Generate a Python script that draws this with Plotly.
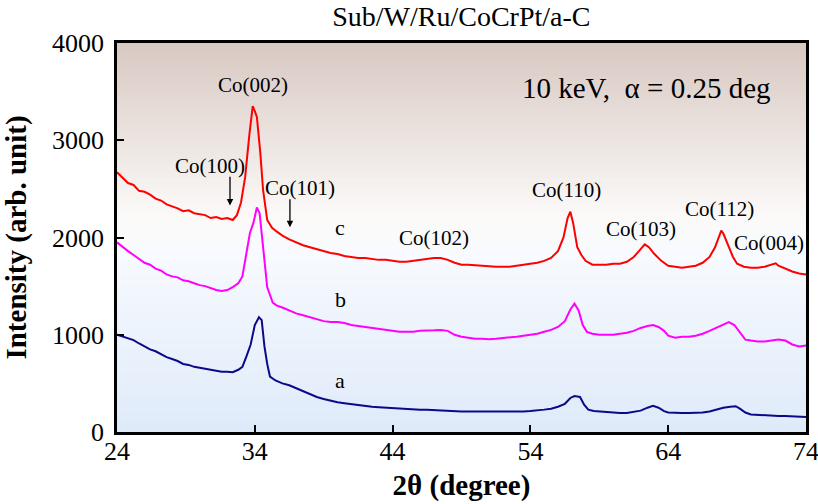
import plotly.graph_objects as go

# ---- data ----
x_c = [24.0, 24.4, 24.8, 25.2, 25.6, 26.0, 26.4, 26.8, 27.2, 27.6, 28.0, 28.4, 28.8, 29.2, 29.6, 30.0,
       30.4, 30.8, 31.2, 31.6, 32.0, 32.4, 32.7, 33.0, 33.3, 33.6, 33.85, 34.0, 34.15, 34.4, 34.6, 34.9,
       35.25, 35.6, 36.0, 36.5, 37.0, 37.5, 38.0, 38.5, 39.0, 39.5, 40.0, 40.5, 41.0, 41.5, 42.0, 42.5,
       43.0, 43.5, 44.0, 44.5, 45.0, 45.5, 46.0, 46.5, 47.0, 47.5, 48.0, 48.5, 49.0, 49.5, 50.0, 50.5,
       51.0, 51.5, 52.0, 52.5, 53.0, 53.5, 54.0, 54.5, 55.0, 55.5, 56.0, 56.4, 56.7, 56.9, 57.1, 57.4,
       57.7, 58.0, 58.5, 59.0, 59.5, 60.0, 60.5, 61.0, 61.5, 62.0, 62.3, 62.6, 63.0, 63.5, 64.0, 64.5,
       65.0, 65.5, 66.0, 66.5, 67.0, 67.4, 67.85, 68.0, 68.3, 68.7, 69.0, 69.5, 70.0, 70.5, 71.0, 71.5,
       71.8, 72.0, 72.5, 73.0, 73.5, 74.0]
y_c = [2670, 2610, 2560, 2540, 2480, 2470, 2440, 2400, 2380, 2340, 2320, 2300, 2270, 2280, 2250, 2240,
       2230, 2200, 2210, 2190, 2200, 2180, 2230, 2360, 2620, 3050, 3350, 3300, 3240, 2870, 2490, 2180,
       2100, 2060, 2020, 1980, 1950, 1920, 1900, 1880, 1860, 1840, 1830, 1810, 1800, 1790, 1790, 1780,
       1770, 1770, 1760, 1750, 1750, 1760, 1770, 1780, 1790, 1790, 1770, 1740, 1720, 1720, 1715, 1710,
       1700, 1700, 1700, 1700, 1710, 1720, 1730, 1740, 1760, 1790, 1860, 2000, 2200, 2265, 2150, 1900,
       1820, 1760, 1720, 1720, 1720, 1730, 1730, 1750, 1800, 1880, 1930, 1900, 1830, 1760, 1710, 1700,
       1690, 1700, 1710, 1740, 1800, 1900, 2070, 2040, 1930, 1800, 1730, 1700, 1690, 1690, 1700, 1720,
       1735, 1710, 1680, 1650, 1630, 1620]

x_b = [24.0, 24.4, 24.8, 25.2, 25.6, 26.0, 26.4, 26.8, 27.2, 27.6, 28.0, 28.4, 28.8, 29.2, 29.6, 30.0,
       30.4, 30.8, 31.2, 31.6, 32.0, 32.4, 32.8, 33.1, 33.4, 33.65, 33.9, 34.15, 34.35, 34.6, 34.9, 35.3,
       35.6, 36.0, 36.5, 37.0, 37.5, 38.0, 38.5, 39.0, 39.5, 40.0, 40.5, 41.0, 41.5, 42.0, 42.5, 43.0,
       43.5, 44.0, 44.5, 45.0, 45.5, 46.0, 46.5, 47.0, 47.5, 48.0, 48.5, 49.0, 49.5, 50.0, 50.5, 51.0,
       51.5, 52.0, 52.5, 53.0, 53.5, 54.0, 54.5, 55.0, 55.5, 56.0, 56.5, 56.9, 57.2, 57.5, 57.8, 58.1,
       58.5, 59.0, 59.5, 60.0, 60.5, 61.0, 61.5, 62.0, 62.5, 62.9, 63.3, 63.7, 64.0, 64.5, 65.0, 65.5,
       66.0, 66.5, 67.0, 67.5, 68.0, 68.4, 68.8, 69.2, 69.6, 70.0, 70.5, 71.0, 71.5, 72.0, 72.5, 73.0,
       73.5, 74.0]
y_b = [1950, 1900, 1860, 1820, 1780, 1740, 1720, 1680, 1660, 1620, 1600, 1590, 1560, 1550, 1530, 1510,
       1500, 1480, 1460, 1450, 1460, 1490, 1530, 1600, 1840, 2050, 2150, 2310, 2250, 1900, 1490, 1330,
       1300, 1280, 1250, 1220, 1200, 1180, 1160, 1140, 1130, 1130, 1120, 1100, 1090, 1080, 1070, 1060,
       1050, 1040, 1030, 1030, 1030, 1040, 1040, 1045, 1050, 1040, 1000, 980, 970, 960, 960, 955,
       960, 965, 970, 980, 990, 1000, 1010, 1030, 1050, 1080, 1140, 1260, 1320, 1250, 1100, 1030,
       1010, 1000, 1000, 1000, 1010, 1020, 1040, 1070, 1090, 1100, 1080, 1040, 990, 970, 980, 980,
       990, 1010, 1040, 1070, 1100, 1130, 1100, 1020, 950, 940, 930, 930, 940, 950, 940, 900,
       880, 890]

x_a = [24.0, 24.4, 24.8, 25.2, 25.6, 26.0, 26.4, 26.8, 27.2, 27.6, 28.0, 28.4, 28.8, 29.2, 29.6, 30.0,
       30.4, 30.8, 31.2, 31.6, 32.0, 32.4, 32.8, 33.1, 33.4, 33.7, 34.0, 34.3, 34.5, 34.7, 34.9, 35.1,
       35.5, 36.0, 36.5, 37.0, 37.5, 38.0, 38.5, 39.0, 39.5, 40.0, 40.5, 41.0, 41.5, 42.0, 42.5, 43.0,
       43.5, 44.0, 44.5, 45.0, 45.5, 46.0, 46.5, 47.0, 47.5, 48.0, 48.5, 49.0, 49.5, 50.0, 50.5, 51.0,
       51.5, 52.0, 52.5, 53.0, 53.5, 54.0, 54.5, 55.0, 55.5, 56.0, 56.5, 56.9, 57.2, 57.6, 57.9, 58.2,
       58.6, 59.0, 59.5, 60.0, 60.5, 61.0, 61.5, 62.0, 62.5, 62.9, 63.3, 63.7, 64.0, 64.5, 65.0, 65.5,
       66.0, 66.5, 67.0, 67.5, 68.0, 68.5, 68.9, 69.2, 69.6, 70.0, 70.5, 71.0, 71.5, 72.0, 72.5, 73.0,
       73.5, 74.0]
y_a = [1000, 980, 960, 945, 910, 880, 850, 830, 800, 770, 750, 730, 700, 690, 670, 660,
       650, 640, 630, 620, 620, 615, 640, 670, 780, 900, 1100, 1180, 1150, 880, 700, 570,
       530, 500, 480, 450, 420, 390, 360, 340, 320, 305, 295, 285, 275, 270, 260, 255,
       250, 250, 245, 240, 235, 230, 230, 225, 220, 220, 215, 210, 210, 210, 205, 205,
       205, 205, 205, 210, 210, 215, 220, 230, 240, 260, 290, 350, 370, 360, 280, 230,
       215, 210, 205, 200, 195, 195, 205, 220, 250, 270, 250, 215, 200, 195, 195, 195,
       195, 200, 210, 230, 250, 260, 265, 240, 200, 180, 175, 170, 170, 165, 165, 160,
       155, 155]

x_ticks = [24, 34, 44, 54, 64, 74]
y_ticks = [0, 1000, 2000, 3000, 4000]

peak_labels = ["Co(002)", "Co(100)", "Co(101)", "Co(102)", "Co(110)", "Co(103)", "Co(112)", "Co(004)"]
peak_x = [33.85, 30.75, 37.3, 47.0, 56.6, 62.0, 67.7, 71.3]
peak_y = [3570, 2735, 2505, 1995, 2490, 2085, 2295, 1945]

curve_labels = ["c", "b", "a"]
curve_lx = [40.2, 40.2, 40.2]
curve_ly = [2100, 1360, 525]

FONT = "Liberation Serif"

fig = go.Figure()

# gradient background stripes
def lerp(c1, c2, t):
    return tuple(round(a + (b - a) * t) for a, b in zip(c1, c2))

stops = [(0.0, (216, 200, 194)), (0.25, (236, 228, 224)), (0.45, (251, 250, 249)),
         (0.55, (247, 250, 254)), (1.0, (223, 234, 249))]

def grad(f):
    for (f0, c0), (f1, c1) in zip(stops[:-1], stops[1:]):
        if f0 <= f <= f1:
            return lerp(c0, c1, (f - f0) / (f1 - f0))
    return stops[-1][1]

N = 80
shapes = []
for i in range(N):
    f = (i + 0.5) / N
    c = grad(f)
    shapes.append(dict(type="rect", xref="x domain", yref="y domain",
                       x0=0, x1=1, y0=1 - (i + 1) / N, y1=1 - i / N + 0.002,
                       fillcolor="rgb(%d,%d,%d)" % c, line=dict(width=0), layer="below"))

fig.add_trace(go.Scatter(x=x_a, y=y_a, mode="lines", line=dict(color="#0a0a88", width=2), showlegend=False))
fig.add_trace(go.Scatter(x=x_b, y=y_b, mode="lines", line=dict(color="#ff00ff", width=2), showlegend=False))
fig.add_trace(go.Scatter(x=x_c, y=y_c, mode="lines", line=dict(color="#ff0000", width=2), showlegend=False))

annotations = []
for t, xx, yy in zip(peak_labels, peak_x, peak_y):
    annotations.append(dict(x=xx, y=yy, text=t, showarrow=False, xref="x", yref="y",
                            font=dict(family=FONT, size=21, color="black")))
for t, xx, yy in zip(curve_labels, curve_lx, curve_ly):
    annotations.append(dict(x=xx, y=yy, text=t, showarrow=False, xref="x", yref="y",
                            font=dict(family=FONT, size=22, color="black")))
# arrows
annotations.append(dict(x=32.2, y=2330, ax=32.2, ay=2640, xref="x", yref="y", axref="x", ayref="y",
                        text="", showarrow=True, arrowhead=2, arrowsize=1, arrowwidth=1.3, arrowcolor="black"))
annotations.append(dict(x=36.55, y=2105, ax=36.55, ay=2410, xref="x", yref="y", axref="x", ayref="y",
                        text="", showarrow=True, arrowhead=2, arrowsize=1, arrowwidth=1.3, arrowcolor="black"))
annotations.append(dict(x=62.4, y=3540, text="10 keV,  α = 0.25 deg", showarrow=False, xref="x", yref="y",
                        font=dict(family=FONT, size=29, color="black")))

fig.update_layout(
    width=818, height=504,
    margin=dict(l=117, r=12, t=43, b=72),
    paper_bgcolor="white", plot_bgcolor="white",
    shapes=shapes, annotations=annotations,
    title=dict(text="Sub/W/Ru/CoCrPt/a-C", x=0.564, xanchor="center", y=0.968, yanchor="middle",
               font=dict(family=FONT, size=28, color="black")),
    font=dict(family=FONT, color="black"),
)
fig.update_xaxes(range=[24, 74], tickvals=x_ticks, ticks="inside", ticklen=7, tickwidth=1.5,
                 tickcolor="black", showline=True, linecolor="black", linewidth=2.5, mirror=True,
                 showgrid=False, zeroline=False, tickfont=dict(family=FONT, size=26), automargin=False,
                 ticklabelstandoff=-6, ticklabeloverflow="allow",
                 title=dict(text="<b>2θ (degree)</b>", font=dict(family=FONT, size=29), standoff=10))
fig.update_yaxes(range=[0, 4000], tickvals=y_ticks, ticks="inside", ticklen=7, tickwidth=1.5,
                 tickcolor="black", showline=True, linecolor="black", linewidth=2.5, mirror=True,
                 showgrid=False, zeroline=False, tickfont=dict(family=FONT, size=26), automargin=False,
                 ticklabelstandoff=5, ticklabeloverflow="allow",
                 title=dict(text="<b>Intensity (arb. unit)</b>", font=dict(family=FONT, size=29), standoff=20))

# remove the browser's default 8px body margin so the figure fills the window exactly
fig.write_html("out.html", config={"displayModeBar": False},
               post_script="document.body.style.margin='0';")
